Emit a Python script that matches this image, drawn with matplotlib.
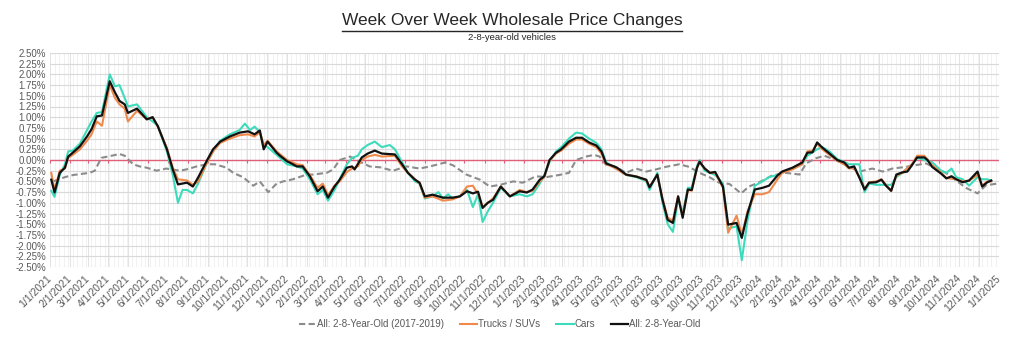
import matplotlib
matplotlib.use("Agg")
import matplotlib.pyplot as plt
from matplotlib.lines import Line2D
import numpy as np
import pandas as pd

plt.rcParams['font.family'] = ['Liberation Sans', 'DejaVu Sans']

# ---- data (weekly % change) ----
all_dates = [
    "2021-01-03", "2021-01-08", "2021-01-16", "2021-01-24", "2021-01-29", "2021-02-05",
    "2021-02-16", "2021-02-27", "2021-03-06", "2021-03-14", "2021-03-22", "2021-04-03",
    "2021-04-11", "2021-04-18", "2021-04-26", "2021-05-01", "2021-05-15", "2021-05-30",
    "2021-06-08", "2021-06-16", "2021-06-30", "2021-07-09", "2021-07-17", "2021-07-31",
    "2021-08-09", "2021-08-17", "2021-08-31", "2021-09-09", "2021-09-20", "2021-10-05",
    "2021-10-20", "2021-11-02", "2021-11-12", "2021-11-20", "2021-11-26", "2021-12-02",
    "2021-12-16", "2021-12-21", "2022-01-01", "2022-01-05", "2022-01-16", "2022-01-25",
    "2022-02-05", "2022-02-17", "2022-02-25", "2022-03-05", "2022-03-15", "2022-03-23",
    "2022-04-03", "2022-04-11", "2022-04-15", "2022-04-26", "2022-05-05", "2022-05-16",
    "2022-05-27", "2022-06-16", "2022-06-27", "2022-07-06", "2022-07-17", "2022-07-24",
    "2022-08-01", "2022-08-13", "2022-08-29", "2022-09-13", "2022-09-24", "2022-10-05",
    "2022-10-14", "2022-10-22", "2022-10-29", "2022-11-06", "2022-11-14", "2022-11-26",
    "2022-12-10", "2022-12-25", "2023-01-05", "2023-01-14", "2023-01-25", "2023-02-01",
    "2023-02-09", "2023-02-19", "2023-02-27", "2023-03-11", "2023-03-22", "2023-03-31",
    "2023-04-11", "2023-04-22", "2023-04-30", "2023-05-07", "2023-05-16", "2023-05-24",
    "2023-06-07", "2023-06-23", "2023-07-08", "2023-07-13", "2023-07-25", "2023-08-02",
    "2023-08-10", "2023-08-18", "2023-08-26", "2023-09-02", "2023-09-10", "2023-09-16",
    "2023-09-24", "2023-09-28", "2023-10-06", "2023-10-14", "2023-10-22", "2023-11-03",
    "2023-11-11", "2023-11-24", "2023-12-02", "2023-12-11", "2023-12-22", "2024-01-03",
    "2024-01-13", "2024-01-26", "2024-02-02", "2024-02-18", "2024-03-04", "2024-03-12",
    "2024-03-20", "2024-03-27", "2024-04-04", "2024-04-15", "2024-04-27", "2024-05-08",
    "2024-05-15", "2024-05-23", "2024-05-31", "2024-06-08", "2024-06-15", "2024-06-26",
    "2024-07-04", "2024-07-11", "2024-07-19", "2024-07-27", "2024-08-05", "2024-08-13",
    "2024-08-20", "2024-08-28", "2024-09-08", "2024-09-13", "2024-09-20", "2024-10-04",
    "2024-10-12", "2024-10-20", "2024-10-27", "2024-11-06", "2024-11-16", "2024-11-29",
    "2024-12-06", "2024-12-14", "2024-12-20",
]
all_vals = [
    -0.46, -0.76, -0.30, -0.18, 0.08, 0.17,
    0.32, 0.55, 0.72, 1.02, 1.04, 1.84,
    1.58, 1.38, 1.30, 1.10, 1.20, 0.95,
    1.00, 0.79, 0.25, -0.22, -0.57, -0.53,
    -0.62, -0.41, 0.00, 0.25, 0.43, 0.55,
    0.64, 0.67, 0.60, 0.69, 0.25, 0.43,
    0.17, 0.10, -0.03, -0.06, -0.15, -0.15,
    -0.38, -0.73, -0.62, -0.88, -0.62, -0.46,
    -0.18, -0.15, -0.22, 0.06, 0.15, 0.22,
    0.15, 0.13, -0.10, -0.30, -0.46, -0.53,
    -0.85, -0.81, -0.88, -0.88, -0.85, -0.73,
    -0.78, -0.74, -1.12, -1.00, -0.93, -0.62,
    -0.85, -0.73, -0.76, -0.69, -0.46, -0.38,
    0.00, 0.17, 0.25, 0.43, 0.52, 0.52,
    0.41, 0.34, 0.20, -0.08, -0.13, -0.18,
    -0.34, -0.39, -0.46, -0.64, -0.34, -0.93,
    -1.40, -1.47, -0.85, -1.35, -0.69, -0.70,
    -0.18, -0.04, -0.20, -0.30, -0.28, -0.62,
    -1.51, -1.47, -1.82, -1.24, -0.69, -0.65,
    -0.60, -0.36, -0.27, -0.18, -0.06, 0.17,
    0.18, 0.41, 0.29, 0.15, 0.00, -0.06,
    -0.18, -0.15, -0.41, -0.69, -0.53, -0.52,
    -0.46, -0.60, -0.72, -0.34, -0.29, -0.27,
    -0.12, 0.06, 0.06, 0.00, -0.16, -0.32,
    -0.43, -0.38, -0.45, -0.52, -0.48, -0.27,
    -0.62, -0.52, -0.48,
]

cars_dates = [
    "2021-01-03", "2021-01-08", "2021-01-16", "2021-01-24", "2021-01-29", "2021-02-05",
    "2021-02-16", "2021-02-27", "2021-03-06", "2021-03-14", "2021-03-22", "2021-04-03",
    "2021-04-11", "2021-04-18", "2021-04-26", "2021-05-01", "2021-05-15", "2021-05-30",
    "2021-06-08", "2021-06-16", "2021-06-30", "2021-07-09", "2021-07-17", "2021-07-24",
    "2021-07-31", "2021-08-09", "2021-08-17", "2021-08-31", "2021-09-09", "2021-09-20",
    "2021-10-05", "2021-10-20", "2021-10-28", "2021-11-05", "2021-11-12", "2021-11-20",
    "2021-11-26", "2021-12-02", "2021-12-16", "2022-01-01", "2022-01-16", "2022-01-25",
    "2022-02-05", "2022-02-17", "2022-02-25", "2022-03-05", "2022-03-15", "2022-03-23",
    "2022-04-03", "2022-04-11", "2022-04-20", "2022-04-26", "2022-05-05", "2022-05-16",
    "2022-05-27", "2022-06-08", "2022-06-16", "2022-06-27", "2022-07-06", "2022-07-17",
    "2022-07-24", "2022-08-01", "2022-08-13", "2022-08-22", "2022-08-29", "2022-09-06",
    "2022-09-13", "2022-09-24", "2022-10-05", "2022-10-14", "2022-10-22", "2022-10-29",
    "2022-11-06", "2022-11-14", "2022-11-26", "2022-12-10", "2022-12-25", "2023-01-05",
    "2023-01-14", "2023-01-25", "2023-02-01", "2023-02-09", "2023-02-19", "2023-02-27",
    "2023-03-11", "2023-03-22", "2023-03-31", "2023-04-11", "2023-04-22", "2023-04-30",
    "2023-05-07", "2023-05-16", "2023-05-24", "2023-06-07", "2023-06-23", "2023-07-08",
    "2023-07-13", "2023-07-25", "2023-08-02", "2023-08-10", "2023-08-18", "2023-08-26",
    "2023-09-02", "2023-09-10", "2023-09-16", "2023-09-24", "2023-09-28", "2023-10-06",
    "2023-10-14", "2023-10-22", "2023-11-03", "2023-11-11", "2023-11-24", "2023-12-02",
    "2023-12-11", "2023-12-22", "2024-01-03", "2024-01-13", "2024-01-26", "2024-02-02",
    "2024-02-18", "2024-03-04", "2024-03-12", "2024-03-27", "2024-04-04", "2024-04-15",
    "2024-04-27", "2024-05-08", "2024-05-15", "2024-05-31", "2024-06-08", "2024-06-15",
    "2024-06-26", "2024-07-11", "2024-07-19", "2024-07-27", "2024-08-05", "2024-08-20",
    "2024-08-28", "2024-09-08", "2024-09-20", "2024-10-04", "2024-10-12", "2024-10-20",
    "2024-10-27", "2024-11-06", "2024-11-16", "2024-11-29", "2024-12-06", "2024-12-14",
    "2024-12-20",
]
cars_vals = [
    -0.72, -0.86, -0.35, -0.10, 0.20, 0.22,
    0.38, 0.70, 0.90, 1.10, 1.12, 2.00,
    1.72, 1.75, 1.45, 1.25, 1.30, 1.00,
    0.90, 0.80, 0.20, -0.35, -1.00, -0.70,
    -0.70, -0.78, -0.55, -0.05, 0.20, 0.45,
    0.60, 0.70, 0.85, 0.70, 0.78, 0.65,
    0.35, 0.30, 0.12, -0.10, -0.15, -0.20,
    -0.45, -0.80, -0.70, -0.95, -0.70, -0.45,
    -0.10, 0.05, 0.10, 0.25, 0.35, 0.43,
    0.30, 0.35, 0.25, -0.05, -0.30, -0.50,
    -0.55, -0.90, -0.85, -0.75, -0.90, -0.80,
    -0.90, -0.85, -0.70, -1.10, -0.80, -1.45,
    -1.20, -1.00, -0.65, -0.85, -0.80, -0.85,
    -0.80, -0.55, -0.35, -0.05, 0.20, 0.30,
    0.50, 0.64, 0.62, 0.50, 0.40, 0.25,
    -0.05, -0.15, -0.20, -0.35, -0.40, -0.50,
    -0.70, -0.30, -1.00, -1.50, -1.68, -0.90,
    -1.25, -0.65, -0.65, -0.15, 0.00, -0.25,
    -0.30, -0.35, -0.55, -1.60, -1.55, -2.34,
    -1.40, -0.60, -0.50, -0.40, -0.35, -0.30,
    -0.20, -0.10, 0.10, 0.25, 0.30, 0.20,
    0.02, -0.05, -0.10, -0.10, -0.75, -0.55,
    -0.58, -0.58, -0.58, -0.40, -0.30, -0.10,
    0.05, 0.00, -0.05, -0.25, -0.30, -0.20,
    -0.40, -0.45, -0.60, -0.40, -0.45, -0.45,
    -0.48,
]

trucks_dates = [
    "2021-01-03", "2021-01-08", "2021-01-16", "2021-01-24", "2021-01-29", "2021-02-05",
    "2021-02-16", "2021-02-27", "2021-03-06", "2021-03-14", "2021-03-22", "2021-04-03",
    "2021-04-11", "2021-04-18", "2021-04-26", "2021-05-01", "2021-05-15", "2021-05-30",
    "2021-06-08", "2021-06-16", "2021-06-30", "2021-07-09", "2021-07-17", "2021-07-31",
    "2021-08-09", "2021-08-17", "2021-08-31", "2021-09-09", "2021-09-20", "2021-10-05",
    "2021-10-20", "2021-11-02", "2021-11-12", "2021-11-20", "2021-11-26", "2021-12-02",
    "2021-12-16", "2022-01-01", "2022-01-16", "2022-01-25", "2022-02-05", "2022-02-17",
    "2022-02-25", "2022-03-05", "2022-03-15", "2022-03-23", "2022-04-03", "2022-04-11",
    "2022-04-20", "2022-04-26", "2022-05-05", "2022-05-16", "2022-05-27", "2022-06-16",
    "2022-06-27", "2022-07-06", "2022-07-17", "2022-07-24", "2022-08-01", "2022-08-13",
    "2022-08-29", "2022-09-13", "2022-09-24", "2022-10-05", "2022-10-14", "2022-10-22",
    "2022-10-29", "2022-11-06", "2022-11-14", "2022-11-26", "2022-12-10", "2022-12-25",
    "2023-01-05", "2023-01-14", "2023-01-25", "2023-02-01", "2023-02-09", "2023-02-19",
    "2023-02-27", "2023-03-11", "2023-03-22", "2023-03-31", "2023-04-11", "2023-04-22",
    "2023-04-30", "2023-05-07", "2023-05-16", "2023-05-24", "2023-06-07", "2023-06-23",
    "2023-07-08", "2023-07-13", "2023-07-25", "2023-08-02", "2023-08-10", "2023-08-18",
    "2023-08-26", "2023-09-02", "2023-09-10", "2023-09-16", "2023-09-24", "2023-09-28",
    "2023-10-06", "2023-10-14", "2023-10-22", "2023-11-03", "2023-11-11", "2023-11-24",
    "2023-12-02", "2023-12-11", "2023-12-22", "2024-01-03", "2024-01-13", "2024-01-26",
    "2024-02-02", "2024-02-18", "2024-03-04", "2024-03-12", "2024-03-20", "2024-03-27",
    "2024-04-04", "2024-04-15", "2024-04-27", "2024-05-08", "2024-05-15", "2024-05-23",
    "2024-05-31", "2024-06-08", "2024-06-15", "2024-06-26", "2024-07-04", "2024-07-11",
    "2024-07-19", "2024-07-27", "2024-08-05", "2024-08-20", "2024-08-28", "2024-09-08",
    "2024-09-20", "2024-10-04", "2024-10-12", "2024-10-27", "2024-11-06", "2024-11-16",
    "2024-11-29", "2024-12-06", "2024-12-14", "2024-12-20",
]
trucks_vals = [
    -0.30, -0.70, -0.25, -0.20, 0.05, 0.12,
    0.25, 0.45, 0.60, 0.90, 0.80, 1.75,
    1.45, 1.30, 1.20, 0.90, 1.15, 0.95,
    1.00, 0.78, 0.28, -0.18, -0.45, -0.48,
    -0.58, -0.50, -0.05, 0.20, 0.40, 0.50,
    0.58, 0.60, 0.55, 0.65, 0.35, 0.45,
    0.20, 0.00, -0.10, -0.12, -0.35, -0.65,
    -0.55, -0.82, -0.60, -0.50, -0.28, -0.20,
    -0.15, 0.00, 0.08, 0.12, 0.08, 0.10,
    -0.15, -0.30, -0.45, -0.55, -0.88, -0.85,
    -0.95, -0.92, -0.85, -0.62, -0.60, -0.80,
    -1.10, -1.00, -0.90, -0.62, -0.85, -0.70,
    -0.75, -0.72, -0.50, -0.40, -0.02, 0.15,
    0.22, 0.38, 0.48, 0.48, 0.38, 0.30,
    0.15, -0.10, -0.15, -0.22, -0.35, -0.38,
    -0.48, -0.62, -0.35, -0.90, -1.35, -1.42,
    -0.85, -1.30, -0.70, -0.72, -0.20, -0.05,
    -0.20, -0.30, -0.30, -0.65, -1.70, -1.30,
    -1.75, -1.20, -0.80, -0.80, -0.75, -0.45,
    -0.30, -0.22, -0.10, 0.20, 0.22, 0.38,
    0.25, 0.12, -0.02, -0.10, -0.20, -0.18,
    -0.40, -0.68, -0.52, -0.50, -0.45, -0.58,
    -0.72, -0.36, -0.30, -0.10, 0.10, 0.10,
    -0.12, -0.30, -0.42, -0.45, -0.50, -0.48,
    -0.35, -0.60, -0.50, -0.50,
]

base_dates = [
    "2021-01-06", "2021-01-24", "2021-02-06", "2021-03-03", "2021-03-11", "2021-03-21",
    "2021-04-06", "2021-04-18", "2021-04-26", "2021-05-09", "2021-05-19", "2021-05-30",
    "2021-06-14", "2021-06-29", "2021-07-20", "2021-07-30", "2021-08-15", "2021-08-30",
    "2021-09-12", "2021-09-30", "2021-10-10", "2021-10-25", "2021-11-10", "2021-11-20",
    "2021-12-03", "2021-12-16", "2021-12-26", "2022-01-10", "2022-01-31", "2022-02-10",
    "2022-03-03", "2022-03-13", "2022-03-23", "2022-04-08", "2022-04-23", "2022-05-08",
    "2022-05-24", "2022-06-13", "2022-07-04", "2022-07-24", "2022-08-09", "2022-09-01",
    "2022-09-13", "2022-10-04", "2022-10-25", "2022-11-09", "2022-11-25", "2022-12-15",
    "2022-12-30", "2023-01-19", "2023-02-04", "2023-02-24", "2023-03-11", "2023-03-22",
    "2023-04-06", "2023-04-19", "2023-04-27", "2023-05-07", "2023-05-22", "2023-06-07",
    "2023-06-22", "2023-07-08", "2023-07-23", "2023-08-07", "2023-08-28", "2023-09-12",
    "2023-09-28", "2023-10-13", "2023-10-28", "2023-11-13", "2023-12-01", "2023-12-13",
    "2023-12-29", "2024-01-18", "2024-02-08", "2024-02-29", "2024-03-10", "2024-03-25",
    "2024-04-07", "2024-04-25", "2024-05-10", "2024-05-31", "2024-06-20", "2024-07-06",
    "2024-07-21", "2024-08-11", "2024-08-26", "2024-09-11", "2024-09-21", "2024-10-11",
    "2024-10-27", "2024-11-11", "2024-11-29", "2024-12-12", "2024-12-30",
]
base_vals = [
    -0.50, -0.40, -0.35, -0.30, -0.25, 0.05,
    0.10, 0.14, 0.10, -0.10, -0.15, -0.18,
    -0.25, -0.20, -0.25, -0.22, -0.15, -0.10,
    -0.10, -0.18, -0.30, -0.40, -0.60, -0.50,
    -0.75, -0.55, -0.50, -0.45, -0.34, -0.34,
    -0.30, -0.22, 0.00, 0.08, -0.04, -0.15,
    -0.17, -0.25, -0.15, -0.20, -0.15, -0.06,
    -0.12, -0.34, -0.46, -0.62, -0.58, -0.50,
    -0.53, -0.38, -0.40, -0.35, -0.30, 0.00,
    0.08, 0.12, 0.08, -0.11, -0.16, -0.30,
    -0.20, -0.27, -0.22, -0.16, -0.10, -0.16,
    -0.30, -0.40, -0.53, -0.56, -0.78, -0.62,
    -0.52, -0.36, -0.30, -0.34, -0.08, 0.04,
    0.10, 0.00, -0.12, -0.27, -0.20, -0.27,
    -0.20, -0.16, -0.12, -0.08, -0.16, -0.30,
    -0.48, -0.65, -0.78, -0.59, -0.55,
]

y_ticks = np.arange(-2.5, 2.501, 0.25)
months = pd.date_range("2021-01-01", "2025-01-01", freq="MS")
weeks = pd.date_range("2021-01-01", "2025-01-01", freq="7D")

TXT = "#595959"
fig = plt.figure(figsize=(10.24, 3.51), dpi=100)
ax = fig.add_axes([50 / 1024, 1 - 267 / 351, 949 / 1024, 214 / 351])

ax.plot(pd.to_datetime(base_dates), base_vals, color="#8c8c8c", lw=1.5,
        dashes=(3, 1.6), zorder=3)
ax.plot(pd.to_datetime(cars_dates), cars_vals, color="#3ddbbb", lw=1.5, zorder=4)
ax.plot(pd.to_datetime(trucks_dates), trucks_vals, color="#f0894c", lw=1.5, zorder=5)
ax.plot(pd.to_datetime(all_dates), all_vals, color="#111111", lw=1.6, zorder=6)

# zero line with month ticks
ax.axhline(0, color="#e0607a", lw=1.0, zorder=2)
ax.vlines(months, -0.07, 0, color="#e0607a", lw=0.8, zorder=2)

ax.set_xlim(pd.Timestamp("2021-01-01"), pd.Timestamp("2025-01-01"))
ax.set_ylim(-2.5, 2.5)
ax.set_yticks(y_ticks)
ax.set_yticklabels([f"{v:.2f}%" for v in y_ticks], fontsize=7, color=TXT)
ax.set_xticks(months)
ax.set_xticklabels([f"{d.month}/1/{d.year}" for d in months], rotation=45,
                   ha="right", va="center", rotation_mode="anchor",
                   fontsize=7.5, color=TXT)
ax.set_xticks(weeks, minor=True)
ax.tick_params(axis="both", which="both", length=0)
ax.tick_params(axis="x", pad=7)
ax.tick_params(axis="y", pad=3)
ax.yaxis.grid(True, color="#d9d9d9", lw=0.8, zorder=0)
ax.xaxis.grid(True, which="major", color="#e3e3e3", lw=0.7, zorder=0)
ax.xaxis.grid(True, which="minor", color="#efefef", lw=0.6, zorder=0)
ax.set_axisbelow(True)
for s in ax.spines.values():
    s.set_visible(False)

# title (underlined) and subtitle
title = fig.text(0.5, 1 - 21 / 351, "Week Over Week Wholesale Price Changes",
                 ha="center", va="center", fontsize=12.5, color="#262626")
fig.text(0.5, 1 - 37 / 351, "2-8-year-old vehicles", ha="center", va="center",
         fontsize=6.8, color="#262626")
fig.canvas.draw()
bb = title.get_window_extent().transformed(fig.transFigure.inverted())
fig.add_artist(Line2D([bb.x0, bb.x1], [1 - 31 / 351] * 2, color="#262626",
                      lw=1.0, transform=fig.transFigure))

handles = [
    Line2D([], [], color="#8c8c8c", lw=1.5, dashes=(3, 1.6)),
    Line2D([], [], color="#f0894c", lw=1.5),
    Line2D([], [], color="#3ddbbb", lw=1.5),
    Line2D([], [], color="#111111", lw=1.6),
]
labels = ["All: 2-8-Year-Old (2017-2019)", "Trucks / SUVs", "Cars", "All: 2-8-Year-Old"]
leg = fig.legend(handles, labels, loc="center", bbox_to_anchor=(0.488, 0.077),
                 ncol=4, frameon=False, fontsize=7, handlelength=1.8,
                 handletextpad=0.1, columnspacing=1.6)
for t in leg.get_texts():
    t.set_color(TXT)

fig.savefig("out.png", dpi=100, facecolor="white")
